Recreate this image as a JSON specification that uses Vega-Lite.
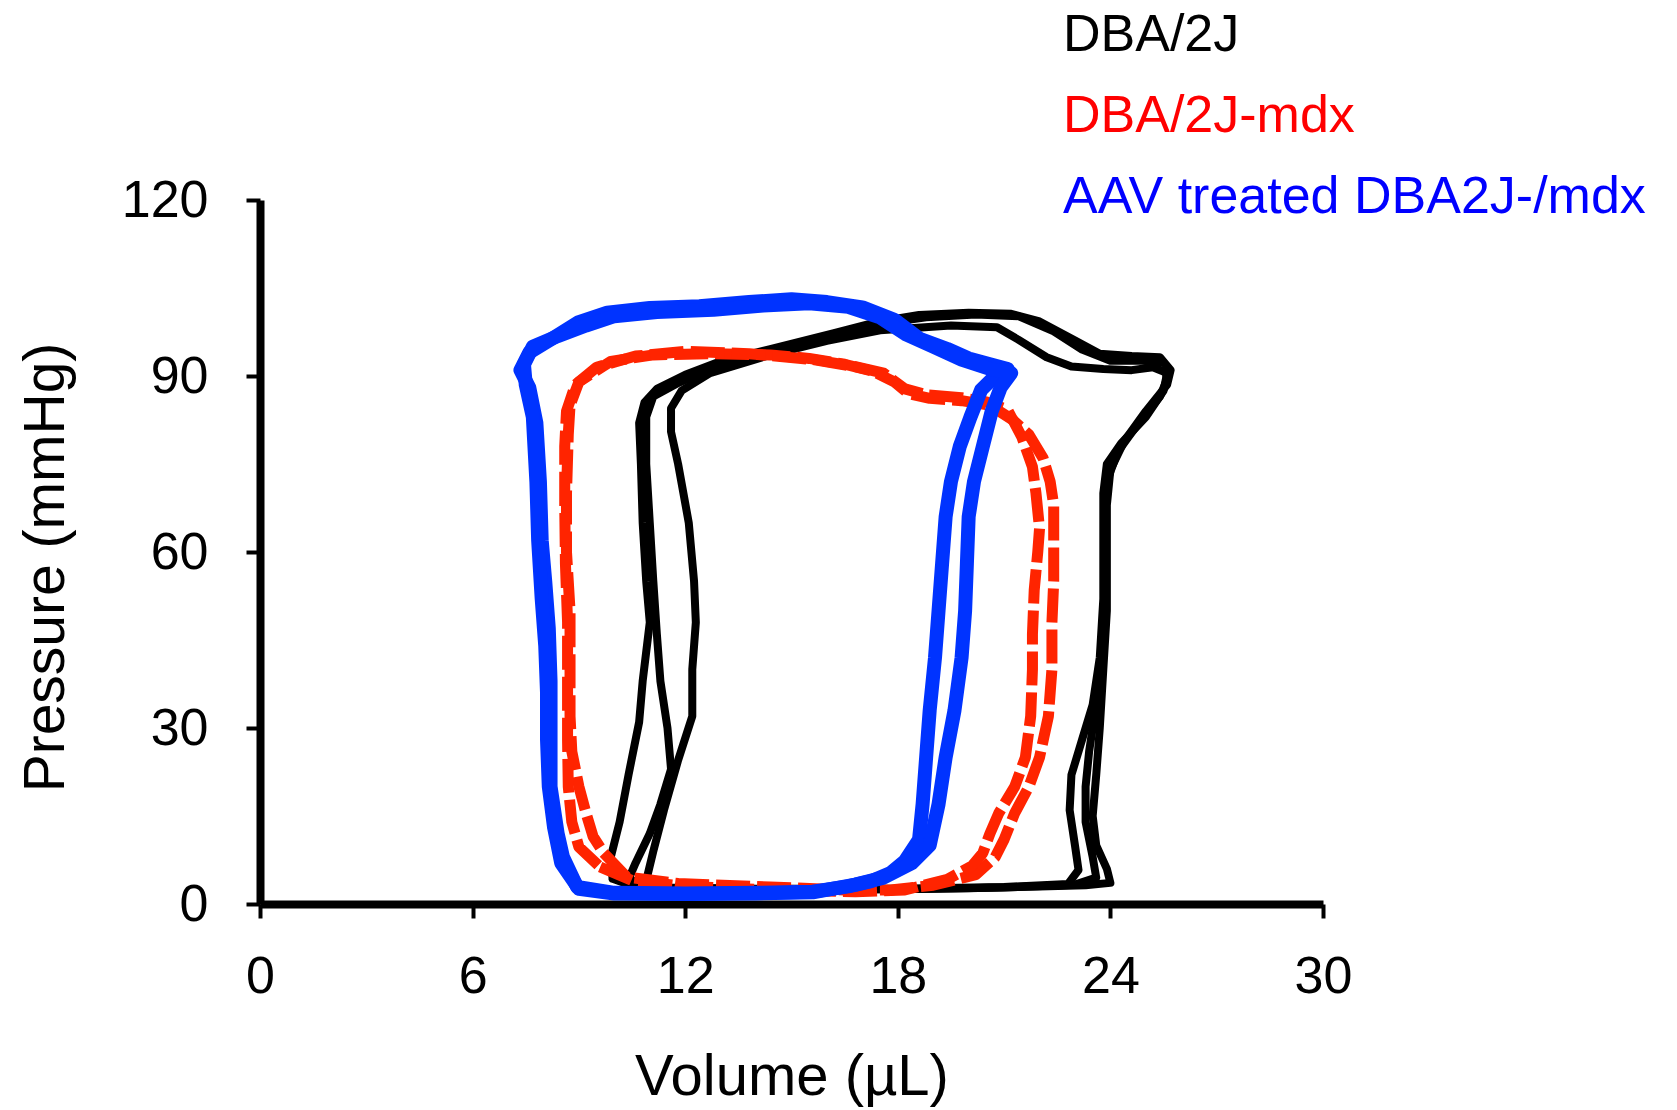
{
  "$schema": "https://vega.github.io/schema/vega-lite/v6.json",
  "width": 1063,
  "height": 704,
  "autosize": {"type": "none"},
  "padding": {"left": 260, "top": 200, "right": 354, "bottom": 206},
  "background": "white",
  "config": {
    "view": {"stroke": null},
    "font": "Liberation Sans",
    "axis": {
      "grid": false,
      "domainColor": "#000000",
      "domainWidth": 8,
      "tickColor": "#000000",
      "tickWidth": 4,
      "tickSize": 14,
      "labelColor": "#000000",
      "labelFont": "Liberation Sans",
      "labelFontSize": 52,
      "titleColor": "#000000",
      "titleFont": "Liberation Sans",
      "titleFontWeight": "normal"
    }
  },
  "data": {"values": [
    {"strain":"DBA/2J","cycle":"B1","i":0,"vol":9.95,"pres":4.3},
    {"strain":"DBA/2J","cycle":"B1","i":1,"vol":10.6,"pres":2.9},
    {"strain":"DBA/2J","cycle":"B1","i":2,"vol":12,"pres":2.6},
    {"strain":"DBA/2J","cycle":"B1","i":3,"vol":14,"pres":2.5},
    {"strain":"DBA/2J","cycle":"B1","i":4,"vol":16,"pres":2.5},
    {"strain":"DBA/2J","cycle":"B1","i":5,"vol":18,"pres":2.5},
    {"strain":"DBA/2J","cycle":"B1","i":6,"vol":20,"pres":2.7},
    {"strain":"DBA/2J","cycle":"B1","i":7,"vol":22,"pres":3.0},
    {"strain":"DBA/2J","cycle":"B1","i":8,"vol":23.3,"pres":3.2},
    {"strain":"DBA/2J","cycle":"B1","i":9,"vol":24.0,"pres":3.6},
    {"strain":"DBA/2J","cycle":"B1","i":10,"vol":23.9,"pres":6},
    {"strain":"DBA/2J","cycle":"B1","i":11,"vol":23.6,"pres":10},
    {"strain":"DBA/2J","cycle":"B1","i":12,"vol":23.5,"pres":15},
    {"strain":"DBA/2J","cycle":"B1","i":13,"vol":23.6,"pres":22},
    {"strain":"DBA/2J","cycle":"B1","i":14,"vol":23.7,"pres":30},
    {"strain":"DBA/2J","cycle":"B1","i":15,"vol":23.8,"pres":40},
    {"strain":"DBA/2J","cycle":"B1","i":16,"vol":23.9,"pres":50},
    {"strain":"DBA/2J","cycle":"B1","i":17,"vol":23.9,"pres":60},
    {"strain":"DBA/2J","cycle":"B1","i":18,"vol":23.9,"pres":68},
    {"strain":"DBA/2J","cycle":"B1","i":19,"vol":24.0,"pres":74},
    {"strain":"DBA/2J","cycle":"B1","i":20,"vol":24.4,"pres":79},
    {"strain":"DBA/2J","cycle":"B1","i":21,"vol":25.0,"pres":84},
    {"strain":"DBA/2J","cycle":"B1","i":22,"vol":25.6,"pres":88.5},
    {"strain":"DBA/2J","cycle":"B1","i":23,"vol":25.7,"pres":91},
    {"strain":"DBA/2J","cycle":"B1","i":24,"vol":25.4,"pres":93.2},
    {"strain":"DBA/2J","cycle":"B1","i":25,"vol":24.6,"pres":93.4},
    {"strain":"DBA/2J","cycle":"B1","i":26,"vol":23.7,"pres":93.8},
    {"strain":"DBA/2J","cycle":"B1","i":27,"vol":22.9,"pres":96.4},
    {"strain":"DBA/2J","cycle":"B1","i":28,"vol":22.0,"pres":99.3},
    {"strain":"DBA/2J","cycle":"B1","i":29,"vol":21.2,"pres":100.6},
    {"strain":"DBA/2J","cycle":"B1","i":30,"vol":20.0,"pres":100.8},
    {"strain":"DBA/2J","cycle":"B1","i":31,"vol":18.6,"pres":100.4},
    {"strain":"DBA/2J","cycle":"B1","i":32,"vol":17.4,"pres":99.2},
    {"strain":"DBA/2J","cycle":"B1","i":33,"vol":16.2,"pres":97.3},
    {"strain":"DBA/2J","cycle":"B1","i":34,"vol":14.4,"pres":94.6},
    {"strain":"DBA/2J","cycle":"B1","i":35,"vol":13.0,"pres":92.5},
    {"strain":"DBA/2J","cycle":"B1","i":36,"vol":12.0,"pres":90.2},
    {"strain":"DBA/2J","cycle":"B1","i":37,"vol":11.2,"pres":87.8},
    {"strain":"DBA/2J","cycle":"B1","i":38,"vol":10.85,"pres":85.5},
    {"strain":"DBA/2J","cycle":"B1","i":39,"vol":10.7,"pres":82},
    {"strain":"DBA/2J","cycle":"B1","i":40,"vol":10.75,"pres":75},
    {"strain":"DBA/2J","cycle":"B1","i":41,"vol":10.8,"pres":65},
    {"strain":"DBA/2J","cycle":"B1","i":42,"vol":10.9,"pres":55},
    {"strain":"DBA/2J","cycle":"B1","i":43,"vol":11.0,"pres":48},
    {"strain":"DBA/2J","cycle":"B1","i":44,"vol":10.8,"pres":38},
    {"strain":"DBA/2J","cycle":"B1","i":45,"vol":10.7,"pres":31},
    {"strain":"DBA/2J","cycle":"B1","i":46,"vol":10.4,"pres":22},
    {"strain":"DBA/2J","cycle":"B1","i":47,"vol":10.15,"pres":14},
    {"strain":"DBA/2J","cycle":"B1","i":48,"vol":9.9,"pres":8},
    {"strain":"DBA/2J","cycle":"B1","i":49,"vol":9.95,"pres":4.3},

    {"strain":"DBA/2J","cycle":"B2","i":0,"vol":10.9,"pres":4.0},
    {"strain":"DBA/2J","cycle":"B2","i":1,"vol":11.6,"pres":2.8},
    {"strain":"DBA/2J","cycle":"B2","i":2,"vol":14,"pres":2.6},
    {"strain":"DBA/2J","cycle":"B2","i":3,"vol":18,"pres":2.6},
    {"strain":"DBA/2J","cycle":"B2","i":4,"vol":21,"pres":2.9},
    {"strain":"DBA/2J","cycle":"B2","i":5,"vol":22.8,"pres":3.4},
    {"strain":"DBA/2J","cycle":"B2","i":6,"vol":23.1,"pres":5.8},
    {"strain":"DBA/2J","cycle":"B2","i":7,"vol":23.0,"pres":10},
    {"strain":"DBA/2J","cycle":"B2","i":8,"vol":22.85,"pres":16},
    {"strain":"DBA/2J","cycle":"B2","i":9,"vol":22.9,"pres":22},
    {"strain":"DBA/2J","cycle":"B2","i":10,"vol":23.2,"pres":28},
    {"strain":"DBA/2J","cycle":"B2","i":11,"vol":23.5,"pres":34},
    {"strain":"DBA/2J","cycle":"B2","i":12,"vol":23.7,"pres":42},
    {"strain":"DBA/2J","cycle":"B2","i":13,"vol":23.8,"pres":52},
    {"strain":"DBA/2J","cycle":"B2","i":14,"vol":23.8,"pres":62},
    {"strain":"DBA/2J","cycle":"B2","i":15,"vol":23.8,"pres":70},
    {"strain":"DBA/2J","cycle":"B2","i":16,"vol":23.9,"pres":75},
    {"strain":"DBA/2J","cycle":"B2","i":17,"vol":24.3,"pres":78.5},
    {"strain":"DBA/2J","cycle":"B2","i":18,"vol":25.0,"pres":83},
    {"strain":"DBA/2J","cycle":"B2","i":19,"vol":25.5,"pres":87.5},
    {"strain":"DBA/2J","cycle":"B2","i":20,"vol":25.6,"pres":90.5},
    {"strain":"DBA/2J","cycle":"B2","i":21,"vol":25.2,"pres":91.5},
    {"strain":"DBA/2J","cycle":"B2","i":22,"vol":24.6,"pres":91.0},
    {"strain":"DBA/2J","cycle":"B2","i":23,"vol":23.8,"pres":91.2},
    {"strain":"DBA/2J","cycle":"B2","i":24,"vol":22.9,"pres":91.6},
    {"strain":"DBA/2J","cycle":"B2","i":25,"vol":22.2,"pres":93.2},
    {"strain":"DBA/2J","cycle":"B2","i":26,"vol":21.4,"pres":96.2},
    {"strain":"DBA/2J","cycle":"B2","i":27,"vol":20.8,"pres":98.3},
    {"strain":"DBA/2J","cycle":"B2","i":28,"vol":19.5,"pres":98.6},
    {"strain":"DBA/2J","cycle":"B2","i":29,"vol":17.5,"pres":97.8},
    {"strain":"DBA/2J","cycle":"B2","i":30,"vol":16,"pres":96},
    {"strain":"DBA/2J","cycle":"B2","i":31,"vol":14.4,"pres":93.6},
    {"strain":"DBA/2J","cycle":"B2","i":32,"vol":12.7,"pres":90.5},
    {"strain":"DBA/2J","cycle":"B2","i":33,"vol":11.9,"pres":87.5},
    {"strain":"DBA/2J","cycle":"B2","i":34,"vol":11.6,"pres":84.5},
    {"strain":"DBA/2J","cycle":"B2","i":35,"vol":11.6,"pres":80.5},
    {"strain":"DBA/2J","cycle":"B2","i":36,"vol":11.8,"pres":75},
    {"strain":"DBA/2J","cycle":"B2","i":37,"vol":12.1,"pres":65},
    {"strain":"DBA/2J","cycle":"B2","i":38,"vol":12.25,"pres":55},
    {"strain":"DBA/2J","cycle":"B2","i":39,"vol":12.3,"pres":48},
    {"strain":"DBA/2J","cycle":"B2","i":40,"vol":12.2,"pres":40},
    {"strain":"DBA/2J","cycle":"B2","i":41,"vol":12.2,"pres":32},
    {"strain":"DBA/2J","cycle":"B2","i":42,"vol":11.8,"pres":24.5},
    {"strain":"DBA/2J","cycle":"B2","i":43,"vol":11.4,"pres":16},
    {"strain":"DBA/2J","cycle":"B2","i":44,"vol":11.1,"pres":9},
    {"strain":"DBA/2J","cycle":"B2","i":45,"vol":10.9,"pres":4.0},

    {"strain":"DBA/2J","cycle":"B3","i":0,"vol":10.4,"pres":4.2},
    {"strain":"DBA/2J","cycle":"B3","i":1,"vol":11.2,"pres":2.7},
    {"strain":"DBA/2J","cycle":"B3","i":2,"vol":14,"pres":2.5},
    {"strain":"DBA/2J","cycle":"B3","i":3,"vol":18,"pres":2.5},
    {"strain":"DBA/2J","cycle":"B3","i":4,"vol":21,"pres":2.8},
    {"strain":"DBA/2J","cycle":"B3","i":5,"vol":23,"pres":3.3},
    {"strain":"DBA/2J","cycle":"B3","i":6,"vol":23.6,"pres":4.5},
    {"strain":"DBA/2J","cycle":"B3","i":7,"vol":23.5,"pres":8},
    {"strain":"DBA/2J","cycle":"B3","i":8,"vol":23.3,"pres":14},
    {"strain":"DBA/2J","cycle":"B3","i":9,"vol":23.3,"pres":20},
    {"strain":"DBA/2J","cycle":"B3","i":10,"vol":23.4,"pres":26},
    {"strain":"DBA/2J","cycle":"B3","i":11,"vol":23.6,"pres":34},
    {"strain":"DBA/2J","cycle":"B3","i":12,"vol":23.8,"pres":45},
    {"strain":"DBA/2J","cycle":"B3","i":13,"vol":23.85,"pres":55},
    {"strain":"DBA/2J","cycle":"B3","i":14,"vol":23.85,"pres":65},
    {"strain":"DBA/2J","cycle":"B3","i":15,"vol":23.9,"pres":72},
    {"strain":"DBA/2J","cycle":"B3","i":16,"vol":24.2,"pres":77},
    {"strain":"DBA/2J","cycle":"B3","i":17,"vol":24.8,"pres":82},
    {"strain":"DBA/2J","cycle":"B3","i":18,"vol":25.4,"pres":86.5},
    {"strain":"DBA/2J","cycle":"B3","i":19,"vol":25.6,"pres":89.5},
    {"strain":"DBA/2J","cycle":"B3","i":20,"vol":25.5,"pres":92.3},
    {"strain":"DBA/2J","cycle":"B3","i":21,"vol":24.9,"pres":92.6},
    {"strain":"DBA/2J","cycle":"B3","i":22,"vol":24.0,"pres":92.6},
    {"strain":"DBA/2J","cycle":"B3","i":23,"vol":23.2,"pres":94.5},
    {"strain":"DBA/2J","cycle":"B3","i":24,"vol":22.4,"pres":97.6},
    {"strain":"DBA/2J","cycle":"B3","i":25,"vol":21.4,"pres":100.2},
    {"strain":"DBA/2J","cycle":"B3","i":26,"vol":20.2,"pres":100.5},
    {"strain":"DBA/2J","cycle":"B3","i":27,"vol":18.8,"pres":100},
    {"strain":"DBA/2J","cycle":"B3","i":28,"vol":17.4,"pres":98.8},
    {"strain":"DBA/2J","cycle":"B3","i":29,"vol":16,"pres":96.8},
    {"strain":"DBA/2J","cycle":"B3","i":30,"vol":14.4,"pres":94.2},
    {"strain":"DBA/2J","cycle":"B3","i":31,"vol":12.8,"pres":91.5},
    {"strain":"DBA/2J","cycle":"B3","i":32,"vol":11.8,"pres":88.8},
    {"strain":"DBA/2J","cycle":"B3","i":33,"vol":11.1,"pres":86.5},
    {"strain":"DBA/2J","cycle":"B3","i":34,"vol":10.9,"pres":83},
    {"strain":"DBA/2J","cycle":"B3","i":35,"vol":10.9,"pres":75},
    {"strain":"DBA/2J","cycle":"B3","i":36,"vol":11.0,"pres":65},
    {"strain":"DBA/2J","cycle":"B3","i":37,"vol":11.1,"pres":55},
    {"strain":"DBA/2J","cycle":"B3","i":38,"vol":11.2,"pres":46},
    {"strain":"DBA/2J","cycle":"B3","i":39,"vol":11.3,"pres":38},
    {"strain":"DBA/2J","cycle":"B3","i":40,"vol":11.5,"pres":30},
    {"strain":"DBA/2J","cycle":"B3","i":41,"vol":11.6,"pres":23},
    {"strain":"DBA/2J","cycle":"B3","i":42,"vol":11.3,"pres":17},
    {"strain":"DBA/2J","cycle":"B3","i":43,"vol":11.0,"pres":12},
    {"strain":"DBA/2J","cycle":"B3","i":44,"vol":10.6,"pres":7},
    {"strain":"DBA/2J","cycle":"B3","i":45,"vol":10.4,"pres":4.2},

    {"strain":"DBA/2J-mdx","cycle":"R1","i":0,"vol":9.7,"pres":8.7},
    {"strain":"DBA/2J-mdx","cycle":"R1","i":1,"vol":10.35,"pres":4.6},
    {"strain":"DBA/2J-mdx","cycle":"R1","i":2,"vol":11.8,"pres":3.5},
    {"strain":"DBA/2J-mdx","cycle":"R1","i":3,"vol":14.4,"pres":2.9},
    {"strain":"DBA/2J-mdx","cycle":"R1","i":4,"vol":16.5,"pres":2.4},
    {"strain":"DBA/2J-mdx","cycle":"R1","i":5,"vol":17.8,"pres":2.4},
    {"strain":"DBA/2J-mdx","cycle":"R1","i":6,"vol":19.0,"pres":3.2},
    {"strain":"DBA/2J-mdx","cycle":"R1","i":7,"vol":20.2,"pres":5.0},
    {"strain":"DBA/2J-mdx","cycle":"R1","i":8,"vol":20.75,"pres":8},
    {"strain":"DBA/2J-mdx","cycle":"R1","i":9,"vol":21.0,"pres":11},
    {"strain":"DBA/2J-mdx","cycle":"R1","i":10,"vol":21.3,"pres":15.5},
    {"strain":"DBA/2J-mdx","cycle":"R1","i":11,"vol":21.7,"pres":20},
    {"strain":"DBA/2J-mdx","cycle":"R1","i":12,"vol":22.0,"pres":25},
    {"strain":"DBA/2J-mdx","cycle":"R1","i":13,"vol":22.25,"pres":32},
    {"strain":"DBA/2J-mdx","cycle":"R1","i":14,"vol":22.35,"pres":40},
    {"strain":"DBA/2J-mdx","cycle":"R1","i":15,"vol":22.35,"pres":48},
    {"strain":"DBA/2J-mdx","cycle":"R1","i":16,"vol":22.4,"pres":55},
    {"strain":"DBA/2J-mdx","cycle":"R1","i":17,"vol":22.4,"pres":63},
    {"strain":"DBA/2J-mdx","cycle":"R1","i":18,"vol":22.4,"pres":68},
    {"strain":"DBA/2J-mdx","cycle":"R1","i":19,"vol":22.3,"pres":72},
    {"strain":"DBA/2J-mdx","cycle":"R1","i":20,"vol":22.1,"pres":76},
    {"strain":"DBA/2J-mdx","cycle":"R1","i":21,"vol":21.7,"pres":80},
    {"strain":"DBA/2J-mdx","cycle":"R1","i":22,"vol":21.25,"pres":82.5},
    {"strain":"DBA/2J-mdx","cycle":"R1","i":23,"vol":20.6,"pres":85},
    {"strain":"DBA/2J-mdx","cycle":"R1","i":24,"vol":19.8,"pres":85.8},
    {"strain":"DBA/2J-mdx","cycle":"R1","i":25,"vol":18.9,"pres":86.2},
    {"strain":"DBA/2J-mdx","cycle":"R1","i":26,"vol":18.3,"pres":87},
    {"strain":"DBA/2J-mdx","cycle":"R1","i":27,"vol":17.9,"pres":89},
    {"strain":"DBA/2J-mdx","cycle":"R1","i":28,"vol":17.3,"pres":90.8},
    {"strain":"DBA/2J-mdx","cycle":"R1","i":29,"vol":16.5,"pres":92},
    {"strain":"DBA/2J-mdx","cycle":"R1","i":30,"vol":15.5,"pres":93},
    {"strain":"DBA/2J-mdx","cycle":"R1","i":31,"vol":14.4,"pres":93.6},
    {"strain":"DBA/2J-mdx","cycle":"R1","i":32,"vol":12.7,"pres":93.8},
    {"strain":"DBA/2J-mdx","cycle":"R1","i":33,"vol":11.1,"pres":93.6},
    {"strain":"DBA/2J-mdx","cycle":"R1","i":34,"vol":9.9,"pres":92.5},
    {"strain":"DBA/2J-mdx","cycle":"R1","i":35,"vol":9.0,"pres":89},
    {"strain":"DBA/2J-mdx","cycle":"R1","i":36,"vol":8.75,"pres":85},
    {"strain":"DBA/2J-mdx","cycle":"R1","i":37,"vol":8.7,"pres":80},
    {"strain":"DBA/2J-mdx","cycle":"R1","i":38,"vol":8.65,"pres":70},
    {"strain":"DBA/2J-mdx","cycle":"R1","i":39,"vol":8.65,"pres":60},
    {"strain":"DBA/2J-mdx","cycle":"R1","i":40,"vol":8.75,"pres":50},
    {"strain":"DBA/2J-mdx","cycle":"R1","i":41,"vol":8.75,"pres":40},
    {"strain":"DBA/2J-mdx","cycle":"R1","i":42,"vol":8.75,"pres":32},
    {"strain":"DBA/2J-mdx","cycle":"R1","i":43,"vol":8.8,"pres":26},
    {"strain":"DBA/2J-mdx","cycle":"R1","i":44,"vol":9.0,"pres":20},
    {"strain":"DBA/2J-mdx","cycle":"R1","i":45,"vol":9.2,"pres":15.5},
    {"strain":"DBA/2J-mdx","cycle":"R1","i":46,"vol":9.4,"pres":11.5},
    {"strain":"DBA/2J-mdx","cycle":"R1","i":47,"vol":9.7,"pres":8.7},

    {"strain":"DBA/2J-mdx","cycle":"R2","i":0,"vol":9.6,"pres":6.3},
    {"strain":"DBA/2J-mdx","cycle":"R2","i":1,"vol":10.5,"pres":4.0},
    {"strain":"DBA/2J-mdx","cycle":"R2","i":2,"vol":12,"pres":3.0},
    {"strain":"DBA/2J-mdx","cycle":"R2","i":3,"vol":14.4,"pres":2.4},
    {"strain":"DBA/2J-mdx","cycle":"R2","i":4,"vol":16.8,"pres":2.1},
    {"strain":"DBA/2J-mdx","cycle":"R2","i":5,"vol":18.2,"pres":2.4},
    {"strain":"DBA/2J-mdx","cycle":"R2","i":6,"vol":19.4,"pres":4.2},
    {"strain":"DBA/2J-mdx","cycle":"R2","i":7,"vol":20.1,"pres":6.5},
    {"strain":"DBA/2J-mdx","cycle":"R2","i":8,"vol":20.4,"pres":8.7},
    {"strain":"DBA/2J-mdx","cycle":"R2","i":9,"vol":20.6,"pres":12},
    {"strain":"DBA/2J-mdx","cycle":"R2","i":10,"vol":20.85,"pres":15.5},
    {"strain":"DBA/2J-mdx","cycle":"R2","i":11,"vol":21.3,"pres":20},
    {"strain":"DBA/2J-mdx","cycle":"R2","i":12,"vol":21.6,"pres":25},
    {"strain":"DBA/2J-mdx","cycle":"R2","i":13,"vol":21.75,"pres":32},
    {"strain":"DBA/2J-mdx","cycle":"R2","i":14,"vol":21.8,"pres":40},
    {"strain":"DBA/2J-mdx","cycle":"R2","i":15,"vol":21.8,"pres":46},
    {"strain":"DBA/2J-mdx","cycle":"R2","i":16,"vol":21.85,"pres":53.5},
    {"strain":"DBA/2J-mdx","cycle":"R2","i":17,"vol":21.95,"pres":60},
    {"strain":"DBA/2J-mdx","cycle":"R2","i":18,"vol":22.0,"pres":64},
    {"strain":"DBA/2J-mdx","cycle":"R2","i":19,"vol":21.9,"pres":70},
    {"strain":"DBA/2J-mdx","cycle":"R2","i":20,"vol":21.8,"pres":74.5},
    {"strain":"DBA/2J-mdx","cycle":"R2","i":21,"vol":21.5,"pres":79.6},
    {"strain":"DBA/2J-mdx","cycle":"R2","i":22,"vol":21.1,"pres":84.2},
    {"strain":"DBA/2J-mdx","cycle":"R2","i":23,"vol":20.5,"pres":85.6},
    {"strain":"DBA/2J-mdx","cycle":"R2","i":24,"vol":19.8,"pres":86.3},
    {"strain":"DBA/2J-mdx","cycle":"R2","i":25,"vol":18.8,"pres":86.8},
    {"strain":"DBA/2J-mdx","cycle":"R2","i":26,"vol":18.2,"pres":87.8},
    {"strain":"DBA/2J-mdx","cycle":"R2","i":27,"vol":17.6,"pres":90.5},
    {"strain":"DBA/2J-mdx","cycle":"R2","i":28,"vol":16.8,"pres":91.6},
    {"strain":"DBA/2J-mdx","cycle":"R2","i":29,"vol":15.6,"pres":92.8},
    {"strain":"DBA/2J-mdx","cycle":"R2","i":30,"vol":13.8,"pres":93.8},
    {"strain":"DBA/2J-mdx","cycle":"R2","i":31,"vol":12.0,"pres":94.2},
    {"strain":"DBA/2J-mdx","cycle":"R2","i":32,"vol":10.6,"pres":93.4},
    {"strain":"DBA/2J-mdx","cycle":"R2","i":33,"vol":9.5,"pres":91.5},
    {"strain":"DBA/2J-mdx","cycle":"R2","i":34,"vol":8.9,"pres":88.5},
    {"strain":"DBA/2J-mdx","cycle":"R2","i":35,"vol":8.65,"pres":84},
    {"strain":"DBA/2J-mdx","cycle":"R2","i":36,"vol":8.6,"pres":78},
    {"strain":"DBA/2J-mdx","cycle":"R2","i":37,"vol":8.6,"pres":68},
    {"strain":"DBA/2J-mdx","cycle":"R2","i":38,"vol":8.62,"pres":58},
    {"strain":"DBA/2J-mdx","cycle":"R2","i":39,"vol":8.68,"pres":48},
    {"strain":"DBA/2J-mdx","cycle":"R2","i":40,"vol":8.68,"pres":38},
    {"strain":"DBA/2J-mdx","cycle":"R2","i":41,"vol":8.68,"pres":28},
    {"strain":"DBA/2J-mdx","cycle":"R2","i":42,"vol":8.7,"pres":20},
    {"strain":"DBA/2J-mdx","cycle":"R2","i":43,"vol":8.8,"pres":14},
    {"strain":"DBA/2J-mdx","cycle":"R2","i":44,"vol":9.0,"pres":9.7},
    {"strain":"DBA/2J-mdx","cycle":"R2","i":45,"vol":9.6,"pres":6.3},

    {"strain":"AAV treated DBA2J-/mdx","cycle":"U1","i":0,"vol":8.95,"pres":2.9},
    {"strain":"AAV treated DBA2J-/mdx","cycle":"U1","i":1,"vol":10,"pres":1.9},
    {"strain":"AAV treated DBA2J-/mdx","cycle":"U1","i":2,"vol":12,"pres":1.8},
    {"strain":"AAV treated DBA2J-/mdx","cycle":"U1","i":3,"vol":14,"pres":1.9},
    {"strain":"AAV treated DBA2J-/mdx","cycle":"U1","i":4,"vol":15.6,"pres":2.1},
    {"strain":"AAV treated DBA2J-/mdx","cycle":"U1","i":5,"vol":16.6,"pres":3.0},
    {"strain":"AAV treated DBA2J-/mdx","cycle":"U1","i":6,"vol":17.25,"pres":3.9},
    {"strain":"AAV treated DBA2J-/mdx","cycle":"U1","i":7,"vol":17.8,"pres":5.3},
    {"strain":"AAV treated DBA2J-/mdx","cycle":"U1","i":8,"vol":18.2,"pres":7.3},
    {"strain":"AAV treated DBA2J-/mdx","cycle":"U1","i":9,"vol":18.6,"pres":11},
    {"strain":"AAV treated DBA2J-/mdx","cycle":"U1","i":10,"vol":18.7,"pres":17},
    {"strain":"AAV treated DBA2J-/mdx","cycle":"U1","i":11,"vol":18.8,"pres":25},
    {"strain":"AAV treated DBA2J-/mdx","cycle":"U1","i":12,"vol":18.9,"pres":33},
    {"strain":"AAV treated DBA2J-/mdx","cycle":"U1","i":13,"vol":19.05,"pres":42},
    {"strain":"AAV treated DBA2J-/mdx","cycle":"U1","i":14,"vol":19.15,"pres":50},
    {"strain":"AAV treated DBA2J-/mdx","cycle":"U1","i":15,"vol":19.25,"pres":58},
    {"strain":"AAV treated DBA2J-/mdx","cycle":"U1","i":16,"vol":19.35,"pres":66},
    {"strain":"AAV treated DBA2J-/mdx","cycle":"U1","i":17,"vol":19.5,"pres":72},
    {"strain":"AAV treated DBA2J-/mdx","cycle":"U1","i":18,"vol":19.75,"pres":78},
    {"strain":"AAV treated DBA2J-/mdx","cycle":"U1","i":19,"vol":20.05,"pres":83},
    {"strain":"AAV treated DBA2J-/mdx","cycle":"U1","i":20,"vol":20.35,"pres":87.6},
    {"strain":"AAV treated DBA2J-/mdx","cycle":"U1","i":21,"vol":20.8,"pres":90.3},
    {"strain":"AAV treated DBA2J-/mdx","cycle":"U1","i":22,"vol":21.1,"pres":91.2},
    {"strain":"AAV treated DBA2J-/mdx","cycle":"U1","i":23,"vol":20.6,"pres":92.0},
    {"strain":"AAV treated DBA2J-/mdx","cycle":"U1","i":24,"vol":20.0,"pres":93},
    {"strain":"AAV treated DBA2J-/mdx","cycle":"U1","i":25,"vol":19.4,"pres":94.6},
    {"strain":"AAV treated DBA2J-/mdx","cycle":"U1","i":26,"vol":18.6,"pres":96.4},
    {"strain":"AAV treated DBA2J-/mdx","cycle":"U1","i":27,"vol":17.9,"pres":99.6},
    {"strain":"AAV treated DBA2J-/mdx","cycle":"U1","i":28,"vol":17.0,"pres":101.7},
    {"strain":"AAV treated DBA2J-/mdx","cycle":"U1","i":29,"vol":16.0,"pres":102.6},
    {"strain":"AAV treated DBA2J-/mdx","cycle":"U1","i":30,"vol":15.0,"pres":103.1},
    {"strain":"AAV treated DBA2J-/mdx","cycle":"U1","i":31,"vol":13.8,"pres":102.6},
    {"strain":"AAV treated DBA2J-/mdx","cycle":"U1","i":32,"vol":12.4,"pres":101.9},
    {"strain":"AAV treated DBA2J-/mdx","cycle":"U1","i":33,"vol":11.0,"pres":101.6},
    {"strain":"AAV treated DBA2J-/mdx","cycle":"U1","i":34,"vol":9.8,"pres":100.8},
    {"strain":"AAV treated DBA2J-/mdx","cycle":"U1","i":35,"vol":9.0,"pres":99.2},
    {"strain":"AAV treated DBA2J-/mdx","cycle":"U1","i":36,"vol":8.2,"pres":96.2},
    {"strain":"AAV treated DBA2J-/mdx","cycle":"U1","i":37,"vol":7.6,"pres":94.0},
    {"strain":"AAV treated DBA2J-/mdx","cycle":"U1","i":38,"vol":7.35,"pres":91},
    {"strain":"AAV treated DBA2J-/mdx","cycle":"U1","i":39,"vol":7.6,"pres":88},
    {"strain":"AAV treated DBA2J-/mdx","cycle":"U1","i":40,"vol":7.8,"pres":82},
    {"strain":"AAV treated DBA2J-/mdx","cycle":"U1","i":41,"vol":7.9,"pres":72},
    {"strain":"AAV treated DBA2J-/mdx","cycle":"U1","i":42,"vol":7.95,"pres":62},
    {"strain":"AAV treated DBA2J-/mdx","cycle":"U1","i":43,"vol":8.05,"pres":55},
    {"strain":"AAV treated DBA2J-/mdx","cycle":"U1","i":44,"vol":8.15,"pres":47},
    {"strain":"AAV treated DBA2J-/mdx","cycle":"U1","i":45,"vol":8.2,"pres":38},
    {"strain":"AAV treated DBA2J-/mdx","cycle":"U1","i":46,"vol":8.2,"pres":30},
    {"strain":"AAV treated DBA2J-/mdx","cycle":"U1","i":47,"vol":8.2,"pres":20},
    {"strain":"AAV treated DBA2J-/mdx","cycle":"U1","i":48,"vol":8.4,"pres":12},
    {"strain":"AAV treated DBA2J-/mdx","cycle":"U1","i":49,"vol":8.55,"pres":8},
    {"strain":"AAV treated DBA2J-/mdx","cycle":"U1","i":50,"vol":8.95,"pres":2.9},

    {"strain":"AAV treated DBA2J-/mdx","cycle":"U2","i":0,"vol":9.0,"pres":2.6},
    {"strain":"AAV treated DBA2J-/mdx","cycle":"U2","i":1,"vol":10,"pres":1.8},
    {"strain":"AAV treated DBA2J-/mdx","cycle":"U2","i":2,"vol":12,"pres":1.7},
    {"strain":"AAV treated DBA2J-/mdx","cycle":"U2","i":3,"vol":14,"pres":1.8},
    {"strain":"AAV treated DBA2J-/mdx","cycle":"U2","i":4,"vol":15.6,"pres":2.0},
    {"strain":"AAV treated DBA2J-/mdx","cycle":"U2","i":5,"vol":16.8,"pres":3.3},
    {"strain":"AAV treated DBA2J-/mdx","cycle":"U2","i":6,"vol":17.6,"pres":4.5},
    {"strain":"AAV treated DBA2J-/mdx","cycle":"U2","i":7,"vol":18.4,"pres":7},
    {"strain":"AAV treated DBA2J-/mdx","cycle":"U2","i":8,"vol":18.9,"pres":10},
    {"strain":"AAV treated DBA2J-/mdx","cycle":"U2","i":9,"vol":19.15,"pres":17},
    {"strain":"AAV treated DBA2J-/mdx","cycle":"U2","i":10,"vol":19.35,"pres":25},
    {"strain":"AAV treated DBA2J-/mdx","cycle":"U2","i":11,"vol":19.6,"pres":33},
    {"strain":"AAV treated DBA2J-/mdx","cycle":"U2","i":12,"vol":19.8,"pres":42},
    {"strain":"AAV treated DBA2J-/mdx","cycle":"U2","i":13,"vol":19.9,"pres":50},
    {"strain":"AAV treated DBA2J-/mdx","cycle":"U2","i":14,"vol":19.95,"pres":58},
    {"strain":"AAV treated DBA2J-/mdx","cycle":"U2","i":15,"vol":20.0,"pres":66},
    {"strain":"AAV treated DBA2J-/mdx","cycle":"U2","i":16,"vol":20.15,"pres":72},
    {"strain":"AAV treated DBA2J-/mdx","cycle":"U2","i":17,"vol":20.4,"pres":78},
    {"strain":"AAV treated DBA2J-/mdx","cycle":"U2","i":18,"vol":20.65,"pres":84},
    {"strain":"AAV treated DBA2J-/mdx","cycle":"U2","i":19,"vol":20.9,"pres":88},
    {"strain":"AAV treated DBA2J-/mdx","cycle":"U2","i":20,"vol":21.2,"pres":90.5},
    {"strain":"AAV treated DBA2J-/mdx","cycle":"U2","i":21,"vol":20.6,"pres":91.2},
    {"strain":"AAV treated DBA2J-/mdx","cycle":"U2","i":22,"vol":19.8,"pres":92.8},
    {"strain":"AAV treated DBA2J-/mdx","cycle":"U2","i":23,"vol":19.0,"pres":95.0},
    {"strain":"AAV treated DBA2J-/mdx","cycle":"U2","i":24,"vol":18.2,"pres":97.2},
    {"strain":"AAV treated DBA2J-/mdx","cycle":"U2","i":25,"vol":17.5,"pres":100},
    {"strain":"AAV treated DBA2J-/mdx","cycle":"U2","i":26,"vol":16.6,"pres":101.8},
    {"strain":"AAV treated DBA2J-/mdx","cycle":"U2","i":27,"vol":15.5,"pres":102.4},
    {"strain":"AAV treated DBA2J-/mdx","cycle":"U2","i":28,"vol":14.2,"pres":102.0},
    {"strain":"AAV treated DBA2J-/mdx","cycle":"U2","i":29,"vol":12.8,"pres":101.3},
    {"strain":"AAV treated DBA2J-/mdx","cycle":"U2","i":30,"vol":11.2,"pres":100.9},
    {"strain":"AAV treated DBA2J-/mdx","cycle":"U2","i":31,"vol":10.0,"pres":100.2},
    {"strain":"AAV treated DBA2J-/mdx","cycle":"U2","i":32,"vol":9.2,"pres":98.6},
    {"strain":"AAV treated DBA2J-/mdx","cycle":"U2","i":33,"vol":8.4,"pres":96.8},
    {"strain":"AAV treated DBA2J-/mdx","cycle":"U2","i":34,"vol":7.7,"pres":95.0},
    {"strain":"AAV treated DBA2J-/mdx","cycle":"U2","i":35,"vol":7.45,"pres":92},
    {"strain":"AAV treated DBA2J-/mdx","cycle":"U2","i":36,"vol":7.5,"pres":88.5},
    {"strain":"AAV treated DBA2J-/mdx","cycle":"U2","i":37,"vol":7.7,"pres":83},
    {"strain":"AAV treated DBA2J-/mdx","cycle":"U2","i":38,"vol":7.8,"pres":72},
    {"strain":"AAV treated DBA2J-/mdx","cycle":"U2","i":39,"vol":7.85,"pres":62},
    {"strain":"AAV treated DBA2J-/mdx","cycle":"U2","i":40,"vol":7.95,"pres":52},
    {"strain":"AAV treated DBA2J-/mdx","cycle":"U2","i":41,"vol":8.05,"pres":44},
    {"strain":"AAV treated DBA2J-/mdx","cycle":"U2","i":42,"vol":8.1,"pres":36},
    {"strain":"AAV treated DBA2J-/mdx","cycle":"U2","i":43,"vol":8.1,"pres":28},
    {"strain":"AAV treated DBA2J-/mdx","cycle":"U2","i":44,"vol":8.15,"pres":20},
    {"strain":"AAV treated DBA2J-/mdx","cycle":"U2","i":45,"vol":8.3,"pres":13},
    {"strain":"AAV treated DBA2J-/mdx","cycle":"U2","i":46,"vol":8.5,"pres":7},
    {"strain":"AAV treated DBA2J-/mdx","cycle":"U2","i":47,"vol":9.0,"pres":2.6}
  ]},
  "encoding": {
    "x": {
      "field": "vol", "type": "quantitative",
      "scale": {"domain": [0, 30], "nice": false, "zero": false},
      "axis": {
        "values": [0, 6, 12, 18, 24, 30],
        "title": "Volume (µL)",
        "titleFontSize": 58,
        "titlePadding": 46,
        "labelPadding": 33,
        "labelFlush": false
      }
    },
    "y": {
      "field": "pres", "type": "quantitative",
      "scale": {"domain": [0, 120], "nice": false, "zero": false},
      "axis": {
        "values": [0, 30, 60, 90, 120],
        "title": "Pressure (mmHg)",
        "titleFontSize": 57,
        "labelPadding": 38,
        "labelFlush": false,
        "titleAngle": -90,
        "titleX": -185,
        "titleY": 367,
        "titleAlign": "center",
        "titleBaseline": "bottom"
      }
    },
    "color": {
      "field": "strain", "type": "nominal",
      "scale": {
        "domain": ["DBA/2J", "DBA/2J-mdx", "AAV treated DBA2J-/mdx"],
        "range": ["#000000", "#ff2400", "#0033ff"]
      },
      "legend": {
        "orient": "none",
        "legendX": 751,
        "legendY": -191,
        "title": null,
        "padding": 0,
        "labelFont": "Liberation Sans",
        "labelFontSize": 52,
        "labelLimit": 0,
        "labelOffset": 0,
        "symbolSize": 0,
        "symbolStrokeWidth": 0,
        "symbolOpacity": 0,
        "rowPadding": 29,
        "encode": {
          "labels": {
            "update": {
              "fill": {"signal": "datum.label == 'DBA/2J' ? '#000000' : datum.label == 'DBA/2J-mdx' ? '#ff0000' : '#0000ff'"}
            }
          }
        }
      }
    },
    "detail": {"field": "cycle", "type": "nominal"},
    "order": {"field": "i", "type": "quantitative"}
  },
  "layer": [
    {
      "transform": [{"filter": "datum.strain == 'DBA/2J'"}],
      "mark": {"type": "line", "strokeWidth": 8, "strokeJoin": "round", "strokeCap": "round", "clip": false}
    },
    {
      "transform": [{"filter": "datum.strain == 'DBA/2J-mdx'"}],
      "mark": {"type": "line", "strokeWidth": 11, "strokeDash": [34, 7], "strokeJoin": "round", "clip": false}
    },
    {
      "transform": [{"filter": "datum.strain == 'AAV treated DBA2J-/mdx'"}],
      "mark": {"type": "line", "strokeWidth": 14, "strokeJoin": "round", "strokeCap": "round", "clip": false}
    }
  ]
}
